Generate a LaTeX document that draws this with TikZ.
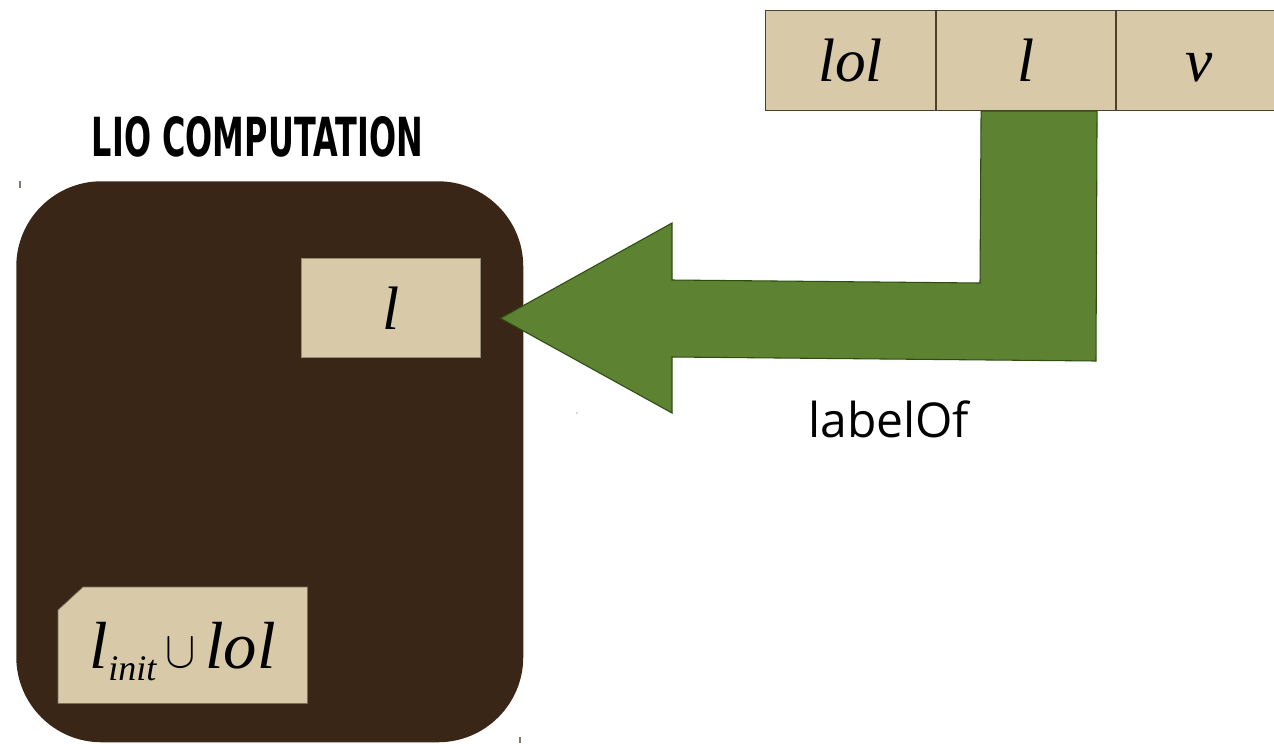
\documentclass[tikz,border=0pt]{standalone}
\usepackage{fontspec}
\usepackage{graphicx}
\setmainfont{Liberation Serif}
\newfontfamily\labelfont{Open Sans}
\newfontfamily\titlefont{DejaVu Sans}
\usetikzlibrary{calc,backgrounds}

\definecolor{computation}{RGB}{58,38,22}
\definecolor{labelbg}{RGB}{216,202,168}
\definecolor{celledge}{RGB}{78,64,46}
\definecolor{flowgreen}{RGB}{92,130,50}
\definecolor{flowedge}{RGB}{45,78,15}

\tikzset{
  cellbox/.style={draw=celledge, line width=0.8pt, fill=labelbg, inner sep=0pt,
    minimum height=75pt, text height=32pt, text depth=0pt,
    font=\fontsize{46}{50}\selectfont\itshape},
  labelbox/.style={fill=labelbg, draw=labelbg!70!black, line width=0.4pt, inner sep=0pt,
    text height=32pt, text depth=0pt, font=\fontsize{46}{50}\selectfont\itshape},
  flow/.style={fill=flowgreen, draw=flowedge, line width=0.8pt, line join=miter},
  crop/.style={draw=celledge!70, line width=0.8pt},
}

\begin{document}
\begin{tikzpicture}[x=0.75pt, y=-0.75pt]
  \clip (0,0) rectangle (1274,743);

  \node[inner sep=0pt, anchor=center] (title) at (257.5,137)
       {\resizebox{248.25pt}{30pt}{\titlefont\bfseries LIO COMPUTATION}};

  % current label
  \node[labelbox, anchor=north west, minimum width=134.25pt, minimum height=74.25pt]
       (lbox) at (301,258) {l};

  % clearance text (its chamfered box is drawn on the background layer)
  \node[inner sep=0pt, anchor=north west, minimum width=186.75pt, minimum height=87pt,
        text height=34.5pt, text depth=0pt, font=\fontsize{50}{54}\selectfont\itshape]
       (init) at (58,587)
       {l\raisebox{-9pt}{\fontsize{27}{30}\selectfont init}\hspace{7pt}\raisebox{0.5pt}{\normalsize\scalebox{3.4}[3.9]{$\cup$}}\hspace{7pt}lol};

  \begin{scope}[on background layer]
    % the LIO computation
    \node[fill=computation, rounded corners=64pt, inner sep=0pt, anchor=north west,
          minimum width=380.25pt, minimum height=420.75pt] (comp) at (16,181) {};
    \draw[fill=labelbg, draw=labelbg!55!black, line width=0.5pt]
      ($(init.north west)+(25,0)$) -- (init.north east) -- (init.south east)
      -- (init.south west) -- ($(init.north west)+(0,23)$) -- cycle;
  \end{scope}

  % labeled value
  \node[cellbox, anchor=north west, minimum width=127.5pt] (clol) at (765,10) {lol};
  \node[cellbox, anchor=north west, minimum width=134.25pt] (cl) at (clol.north east) {l};
  \node[cellbox, anchor=north west, minimum width=124pt] (cv) at (cl.north east) {v};

  % labelOf arrow from the value's label to the computation
  \coordinate (srcl) at ($(cl.south west)+(45,0)$);
  \coordinate (srcr) at ($(cl.south west)+(161,0)$);
  \coordinate (tip) at ($(lbox.east)+(20,10.5)$);
  \draw[flow] (srcl) -- (srcr) -- (1096,361) -- (672,357) -- (672,413) -- (tip)
    -- (672,223) -- (672,280) -- (980,283) -- cycle;
  \node[anchor=base west, inner sep=0pt, font=\labelfont\fontsize{36}{40}\selectfont]
       (flowlabel) at (808,437) {labelOf};

  % crop marks
  \draw[crop] (20,181) -- (20,188);
  \draw[crop] (520,737) -- (520,743);
  \fill[blue!40!gray] (577,413) circle (0.6);
\end{tikzpicture}
\end{document}
